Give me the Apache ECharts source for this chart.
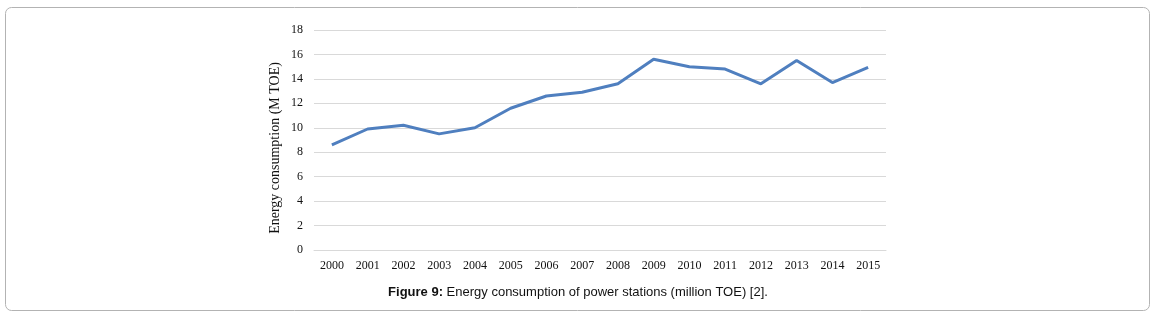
<!DOCTYPE html>
<html>
<head>
<meta charset="utf-8">
<script src="https://cdn.jsdelivr.net/npm/echarts@6/dist/echarts.min.js"></script>
<style>
  html, body { margin: 0; padding: 0; background: #fff; }
  #chart { width: 1156px; height: 317px; }
</style>
</head>
<body>
<div id="chart"></div>
<script>
// data
let years = ['2000', '2001', '2002', '2003', '2004', '2005', '2006', '2007',
  '2008', '2009', '2010', '2011', '2012', '2013', '2014', '2015'];
let consumption = [8.6, 9.9, 10.2, 9.5, 10.0, 11.6, 12.6, 12.9,
  13.6, 15.6, 15.0, 14.8, 13.6, 15.5, 13.7, 14.95];

let serif = '"Liberation Serif", "Times New Roman", serif';

let myChart = echarts.init(document.getElementById('chart'));
myChart.setOption({
  animation: false,
  grid: {
    left: 314,
    right: 270,
    top: 30,
    bottom: 67
  },
  graphic: [{
    type: 'rect',
    shape: { x: 5.5, y: 7.5, width: 1144, height: 303, r: 6 },
    style: { fill: 'none', stroke: '#b3b3b3', lineWidth: 1 },
    silent: true
  }, {
    type: 'text',
    left: 'center',
    top: 286,
    style: {
      text: '{b|Figure 9:} Energy consumption of power stations (million TOE) [2].',
      font: '13px "Liberation Sans", Arial, sans-serif',
      fill: '#111',
      rich: {
        b: { fontWeight: 'bold', fontSize: 13, fontFamily: '"Liberation Sans", Arial, sans-serif', fill: '#111' }
      }
    }
  }],
  xAxis: {
    type: 'category',
    data: years,
    boundaryGap: true,
    axisLine: { show: true, lineStyle: { color: '#d9d9d9' } },
    axisTick: { show: false },
    axisLabel: {
      color: '#111',
      fontFamily: serif,
      fontSize: 12,
      margin: 10,
      interval: 0
    }
  },
  yAxis: {
    type: 'value',
    min: 0,
    max: 18,
    interval: 2,
    name: 'Energy consumption (M TOE)',
    nameLocation: 'middle',
    nameGap: 32,
    nameRotate: 90,
    nameTextStyle: {
      color: '#111',
      fontFamily: serif,
      fontSize: 14,
      padding: [0, 16, 0, 0]
    },
    axisLine: { show: false },
    axisTick: { show: false },
    axisLabel: {
      color: '#111',
      fontFamily: serif,
      fontSize: 12,
      margin: 11
    },
    splitLine: { lineStyle: { color: '#d9d9d9', width: 1 } }
  },
  series: [{
    type: 'line',
    data: consumption,
    symbol: 'none',
    lineStyle: { color: '#4f7fbf', width: 3 },
    itemStyle: { color: '#4f7fbf' }
  }]
});
</script>
</body>
</html>
